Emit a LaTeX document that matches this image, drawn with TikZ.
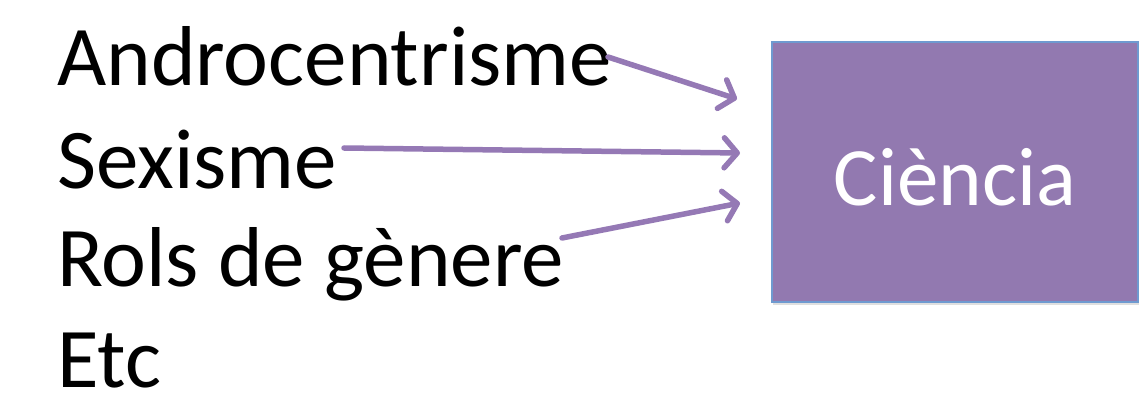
\documentclass[tikz,border=0pt]{standalone}
\usepackage{fontspec}
\setmainfont{Carlito}
\usetikzlibrary{arrows.meta,shadows}
\definecolor{boxfill}{HTML}{9279B0}
\definecolor{boxedge}{HTML}{6F9AD0}
\definecolor{arrowcol}{HTML}{9579B5}
\tikzset{
  big/.style={font=\fontsize{85}{100}\selectfont, inner sep=0pt, anchor=base west},
  boxnode/.style={fill=boxfill, draw=boxedge, line width=1.2pt, drop shadow={opacity=0.25, shadow xshift=1pt, shadow yshift=-3pt}},
  arr/.style={draw=arrowcol, line width=5.5pt, line cap=round, -{Straight Barb[length=13pt, width=30pt, line width=5.5pt, round]}}
}
\begin{document}
\begin{tikzpicture}[x=1pt,y=-1pt]
\useasboundingbox (0,0) rectangle (1146,401);
\node[big] (andro) at (57,86) {Androcentrisme};
\node[big] (sex) at (57,188) {Sexisme};
\node[big] (rols) at (57,286) {Rols de gènere};
\node[big, text depth=0pt] (etc) at (57,387) {Etc};
\path[boxnode] (772,42) rectangle (1138,302);
\node[font=\fontsize{83}{98}\selectfont, text=white, inner sep=0pt, anchor=base] (ciencia) at (955,205) {Ciència};
\coordinate (s1) at (608,57);
\coordinate (t1) at (737,99);
\coordinate (s2) at (344,148);
\coordinate (t2) at (740,153);
\coordinate (s3) at (562,238);
\coordinate (t3) at (740,203);
\draw[arr] (s1) -- (t1);
\draw[arr] (s2) -- (t2);
\draw[arr] (s3) -- (t3);
\end{tikzpicture}
\end{document}
